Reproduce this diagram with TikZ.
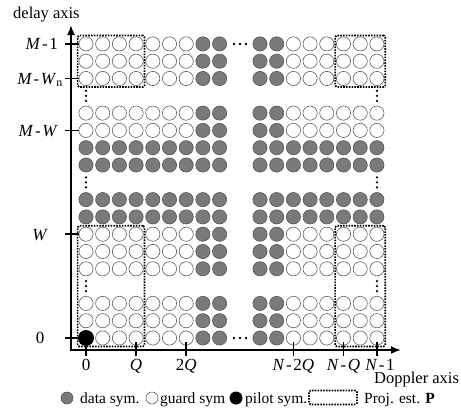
\documentclass[tikz,border=0pt]{standalone}
\usepackage{fontspec}
\setmainfont{Liberation Serif}
\usetikzlibrary{arrows.meta,fit}
\definecolor{datafill}{RGB}{122,122,122}
\definecolor{datadraw}{RGB}{85,85,85}
\definecolor{guarddraw}{RGB}{95,95,95}
\newcommand{\hy}{\kern1.5pt-\kern1.5pt}
\begin{document}
\begin{tikzpicture}[x=1pt,y=-1pt,
  datasym/.style={circle,draw=datadraw,fill=datafill,line width=0.6pt,minimum size=14.2pt,inner sep=0pt},
  guardsym/.style={circle,draw=guarddraw,fill=white,line width=0.6pt,minimum size=14.2pt,inner sep=0pt},
  pilotsym/.style={circle,fill=black,minimum size=16pt,inner sep=0pt},
  smallsym/.style={minimum size=12pt},
  projbox/.style={draw=black,line width=1.7pt,dash pattern=on 1.6pt off 1.2pt,rounded corners=1.5pt,inner sep=1pt},
  axisline/.style={line width=1.8pt,-{Latex[length=10pt,width=8pt]}},
  tickline/.style={line width=1.8pt},
  lab/.style={font=\fontsize{17}{19}\selectfont,inner sep=0pt},
  namelab/.style={font=\fontsize{16.5}{18}\selectfont,inner sep=0pt},
  leglab/.style={font=\fontsize{15.5}{18}\selectfont,inner sep=0pt},
  dotmark/.style={fill=black}
]
\useasboundingbox (0,0) rectangle (461,416);

% ---- grid of symbols ----
\foreach \r in {0,1,2,4,5,6,12,13,15,16,17}{
  \foreach \c in {0,...,6}{
    \node[guardsym] (L\c-\r) at ({86+16.7*\c},{338-17.3*\r}) {};}
  \foreach \c in {7,8}{
    \node[datasym] (L\c-\r) at ({86+16.7*\c},{338-17.3*\r}) {};}
  \foreach \c in {0,1}{
    \node[datasym] (R\c-\r) at ({260+16.7*\c},{338-17.3*\r}) {};}
  \foreach \c in {2,...,7}{
    \node[guardsym] (R\c-\r) at ({260+16.7*\c},{338-17.3*\r}) {};}
}
\foreach \r in {7,8,10,11}{
  \foreach \c in {0,...,8}{
    \node[datasym] (L\c-\r) at ({86+16.7*\c},{338-17.3*\r}) {};}
  \foreach \c in {0,...,7}{
    \node[datasym] (R\c-\r) at ({260+16.7*\c},{338-17.3*\r}) {};}
}
\node[pilotsym] (pilot) at (L0-0) {};

% ---- dots ----
\foreach \r in {3,9,14}{
  \foreach \xx in {86,377}{
    \foreach \d in {-5,0,5}{
      \fill[dotmark] (\xx,{338-17.3*\r+\d}) circle (1.3pt);}}}
\foreach \yy in {44,338}{
  \foreach \d in {-6,0,6}{
    \fill[dotmark] ({240+\d},\yy) circle (1.3pt);}}

% ---- projection boxes ----
\node[projbox,fit=(L0-17)(L3-15)] (P1) {};
\node[projbox,fit=(R5-17)(R7-15)] (P2) {};
\node[projbox,fit=(L0-6)(L3-0)] (P3) {};
\node[projbox,fit=(R5-6)(R7-0)] (P4) {};

% ---- axes ----
\coordinate (O) at (71,350);
\coordinate (ytop) at (71,25);
\coordinate (xend) at (401,350);
\draw[axisline,line cap=rect] (O) -- (ytop);
\draw[axisline,line cap=rect] (O) -- (xend);

% y ticks
\foreach \yy in {44,78.5,130.4,234.2,338}{
  \draw[tickline] (65,\yy) -- (79,\yy);}
% x ticks
\foreach \xx in {86,136.1,186.2,293.4,343.5,376.9}{
  \draw[tickline] (\xx,342) -- (\xx,356);}

% y labels
\node[lab,anchor=base east] (lM1) at (58,49.5) {\textit{M}\hy 1};
\node[lab,anchor=base east] (lMWn) at (63,84) {\textit{M}\hy\textit{W}\textsubscript{n}};
\node[lab,anchor=base east] (lMW) at (58,136) {\textit{M}\hy\textit{W}};
\node[lab,anchor=base] (lW) at (40,240) {\textit{W}};
\node[lab,anchor=base] (l0) at (40,343.5) {0};
% x labels
\node[lab,anchor=base] (x0) at (86,370) {0};
\node[lab,anchor=base] (xQ) at (136.1,370) {\textit{Q}};
\node[lab,anchor=base] (x2Q) at (186.2,370) {2\textit{Q}};
\node[lab,anchor=base] (xN2Q) at (293.4,370) {\textit{N}\hy 2\textit{Q}};
\node[lab,anchor=base] (xNQ) at (343.5,370) {\textit{N}\hy\textit{Q}};
\node[lab,anchor=base] (xN1) at (380,370) {\textit{N}\hy 1};
% axis names
\node[namelab,anchor=base west] (dname) at (13,18) {delay axis};
\node[namelab,anchor=base west] (pname) at (374,383) {Doppler axis};

% ---- legend ----
\node[datasym,smallsym] (lgd) at (67,398) {};
\node[leglab,anchor=base west] (lgdt) at (80,403) {data sym.};
\node[guardsym,smallsym] (lgg) at (152,398) {};
\node[leglab,anchor=base west] (lggt) at (160,403) {guard sym};
\node[pilotsym,minimum size=13pt] (lgp) at (236,398) {};
\node[leglab,anchor=base west] (lgpt) at (245,403) {pilot sym.};
\node[projbox,minimum width=48pt,minimum height=14pt,inner sep=0pt] (lgb) at (333,397.5) {};
\node[leglab,anchor=base west] (lgbt) at (364,403) {Proj. est. \textbf{P}};
\end{tikzpicture}
\end{document}
